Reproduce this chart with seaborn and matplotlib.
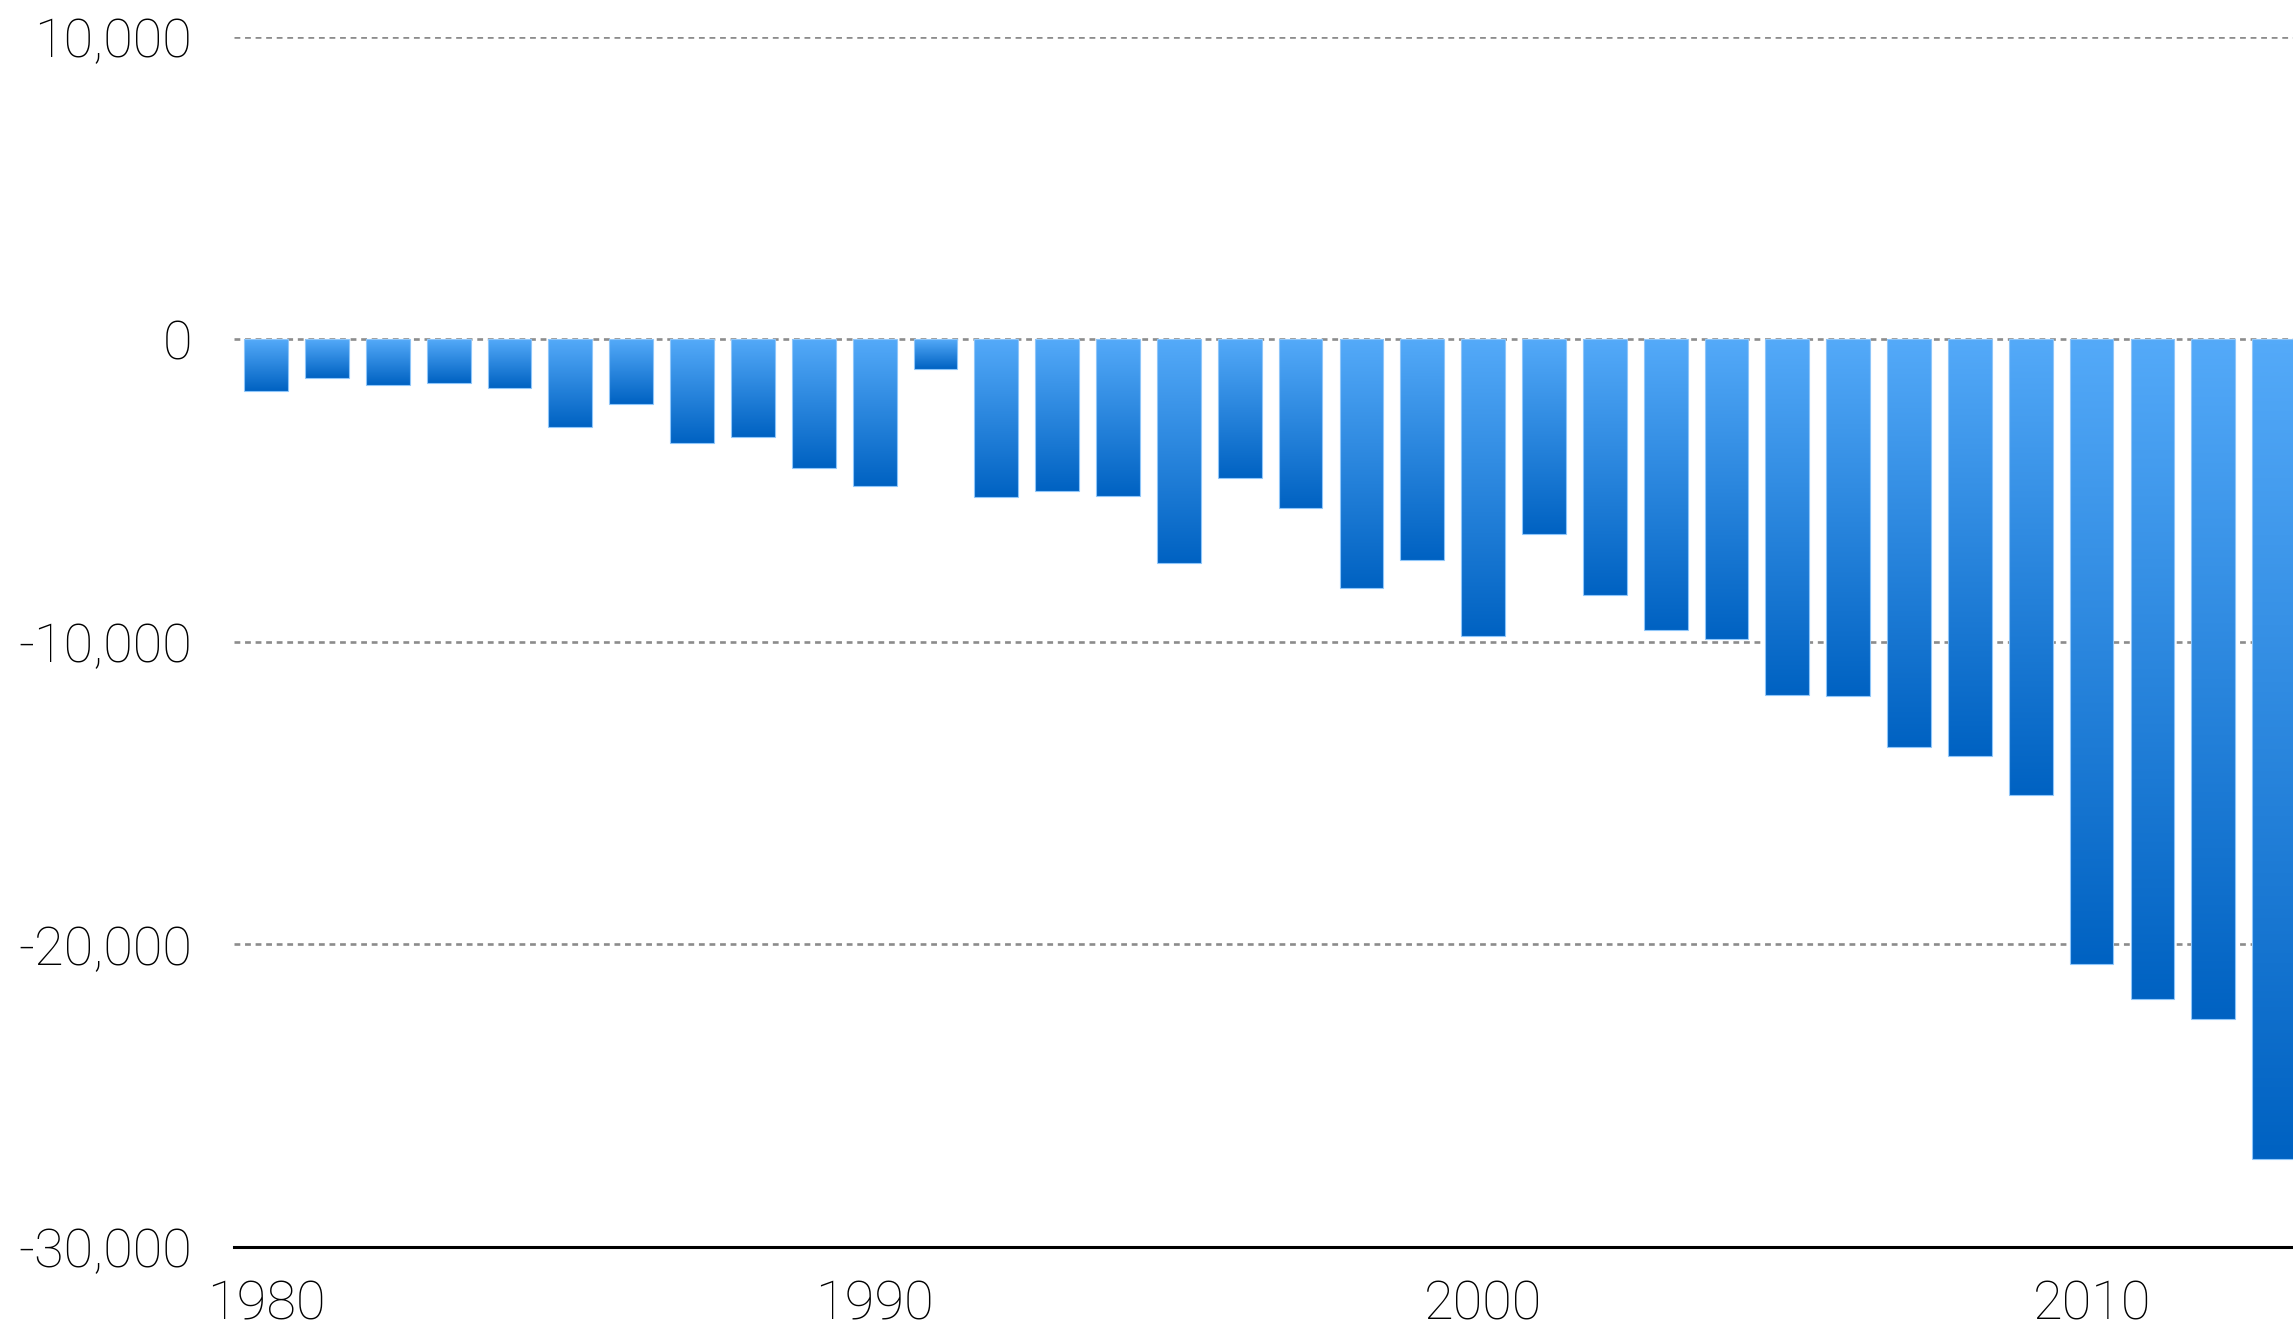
import matplotlib
matplotlib.use("Agg")
import matplotlib.pyplot as plt
from matplotlib.colors import LinearSegmentedColormap
import numpy as np
import seaborn as sns

years = [str(y) for y in range(1980, 2014)]
balance = [-1700, -1260, -1500, -1450, -1600, -2900, -2130, -3430, -3240, -4250,
           -4830, -970, -5220, -5020, -5170, -7390, -4590, -5560, -8210, -7290,
           -9810, -6430, -8450, -9610, -9900, -11740, -11790, -13480, -13770, -15070,
           -20630, -21790, -22460, -27100]
ytick_vals = [-30000, -20000, -10000, 0, 10000]
ytick_labels = ["-30,000", "-20,000", "-10,000", "0", "10,000"]
xtick_labels = ["1980", "1990", "2000", "2010"]

sns.set_style("white")
plt.rcParams["font.family"] = ["Roboto", "DejaVu Sans"]

fig = plt.figure(figsize=(22.93, 13.29), dpi=100)
ax = fig.add_axes([0.102, 0.0617, 0.898, 0.9105])

sns.barplot(x=years, y=balance, color="#3a8fe6", width=0.72, ax=ax, zorder=3)

# vertical gradient on each bar, light at zero, dark at the bar end
cmap = LinearSegmentedColormap.from_list("bar", ["#54aaf9", "#0062c2"])
grad = np.linspace(0, 1, 256).reshape(-1, 1)
for bar in ax.patches:
    x0, w, h = bar.get_x(), bar.get_width(), bar.get_height()
    bar.set_facecolor("none")
    bar.set_edgecolor("#8ec6fa")
    bar.set_linewidth(0.8)
    im = ax.imshow(grad, extent=[x0, x0 + w, h, 0], origin="upper", aspect="auto",
                   cmap=cmap, zorder=2.5, interpolation="bilinear")
    im.set_clip_path(bar)

ax.set_xlim(-0.53, 33.31)
ax.set_ylim(-30000, 10000)

for v in ytick_vals[1:]:
    ax.axhline(v, color="#8c8c8c", lw=1.9, ls=(0, (2.2, 1.8)), zorder=1)

for s in ["top", "right", "left"]:
    ax.spines[s].set_visible(False)
ax.spines["bottom"].set_color("black")
ax.spines["bottom"].set_linewidth(2.2)

ax.set_yticks(ytick_vals)
ax.set_yticklabels(ytick_labels)
ax.set_xticks([years.index(t) for t in xtick_labels])
ax.set_xticklabels(xtick_labels)
ax.tick_params(axis="y", length=0, pad=30, labelsize=39, labelcolor="black")
ax.tick_params(axis="x", length=0, pad=23, labelsize=39, labelcolor="black")
for lab in ax.get_xticklabels() + ax.get_yticklabels():
    lab.set_fontweight("light")
ax.set_xlabel("")
ax.set_ylabel("")

fig.savefig("out.png", dpi=100)
